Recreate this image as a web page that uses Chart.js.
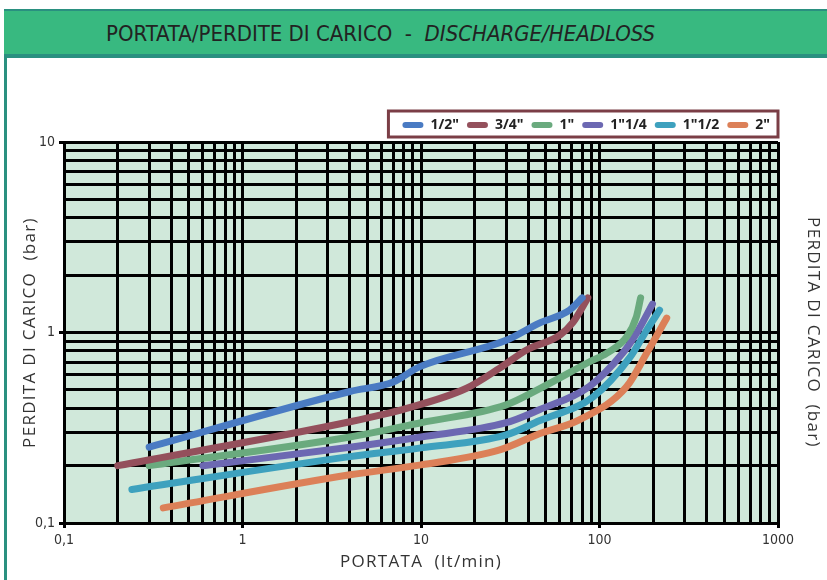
<!DOCTYPE html>
<html>
<head>
<meta charset="utf-8">
<script src="https://cdn.jsdelivr.net/npm/chart.js@4.4.1/dist/chart.umd.min.js"></script>
<style>
  html, body { margin: 0; padding: 0; background: #fff; }
  body { width: 827px; height: 580px; position: relative; overflow: hidden; }
  .header {
    position: absolute; left: 4px; top: 9px; width: 823px; height: 43px;
    background: #38b980; border-top: 2px solid #2a9080; border-bottom: 4px solid #2a9080;
    z-index: 2;
  }
  .header h1 {
    position: absolute; left: 102px; top: 10px; margin: 0;
    font-family: 'DejaVu Sans Condensed', 'Liberation Sans Narrow', sans-serif;
    font-weight: normal; font-size: 22px; color: #222; white-space: pre;
  }
  .header h1 i { font-style: italic; }
  .side { position: absolute; left: 4px; top: 56px; width: 3px; height: 524px; background: #2a9080; z-index: 2; }
  #wrap { position: absolute; left: 0; top: 0; width: 827px; height: 580px; }
</style>
</head>
<body>
<div class="header"><h1>PORTATA/PERDITE DI CARICO  -  <i>DISCHARGE/HEADLOSS</i></h1></div>
<div class="side"></div>
<div id="wrap"><canvas id="lossChart" width="827" height="580"></canvas></div>
<script>
// portata (lt/min) / perdita di carico (bar)
const sizes = ['1/2"', '3/4"', '1"', '1"1/4', '1"1/2', '2"'];
const colors = ['#4a7bc3', '#94505c', '#6aaa7e', '#6c68b2', '#3ea1be', '#dc8058'];

const flow12 = [0.3, 4, 7, 9.8, 30, 46, 68, 80];
const loss12 = [0.25, 0.49, 0.55, 0.66, 0.91, 1.12, 1.31, 1.52];
const flow34 = [0.2, 4, 8.3, 18, 27.6, 39, 60, 71, 86];
const loss34 = [0.2, 0.34, 0.40, 0.51, 0.65, 0.81, 0.97, 1.13, 1.52];
const flow1 = [0.3, 4, 10, 30, 46, 87.5, 110, 142, 161, 170];
const loss1 = [0.2, 0.283, 0.336, 0.417, 0.506, 0.70, 0.78, 0.95, 1.21, 1.52];
const flow114 = [0.6, 4, 10, 30, 46, 87.5, 135, 161, 198];
const loss114 = [0.2, 0.25, 0.283, 0.336, 0.393, 0.52, 0.78, 0.99, 1.41];
const flow112 = [0.24, 4, 10, 30, 46, 92, 148, 184, 217];
const loss112 = [0.15, 0.223, 0.248, 0.29, 0.344, 0.459, 0.74, 1.03, 1.31];
const flow2 = [0.36, 4, 10, 27.6, 46, 77, 142, 184, 238];
const loss2 = [0.12, 0.179, 0.202, 0.242, 0.294, 0.348, 0.52, 0.78, 1.19];

const xTicks = [0.1, 1, 10, 100, 1000];
const xTickLabels = ['0,1', '1', '10', '100', '1000'];
const yTicks = [0.1, 1, 10];
const yTickLabels = ['0,1', '1', '10'];

const flows = [flow12, flow34, flow1, flow114, flow112, flow2];
const losses = [loss12, loss34, loss1, loss114, loss112, loss2];

// every 1..9 step of each decade gets a grid line
function decadeSteps(majors) {
  const out = [];
  majors.forEach((p, i) => {
    if (i === majors.length - 1) { out.push(p); return; }
    for (let m = 1; m < 10; m++) out.push(Number((p * m).toPrecision(6)));
  });
  return out;
}

const thin = "'Liberation Sans Narrow', 'DejaVu Sans Condensed', sans-serif";

const plotBg = {
  id: 'plotBg',
  beforeDraw(chart) {
    const {ctx, chartArea: a} = chart;
    ctx.save();
    ctx.fillStyle = '#d0e8da';
    ctx.fillRect(a.left, a.top, a.width, a.height);
    ctx.restore();
  }
};

// wider letter spacing on the axis titles only
const spacedTitles = {
  id: 'spacedTitles',
  afterLayout(chart) {
    Object.values(chart.scales).forEach(s => {
      if (s._spaced) return;
      const orig = s.drawTitle;
      s.drawTitle = function () {
        const c = this.ctx;
        c.save();
        c.letterSpacing = '1.3px';
        orig.apply(this, arguments);
        c.restore();
      };
      s._spaced = true;
    });
  }
};

const legendFrame = {
  id: 'legendFrame',
  afterDraw(chart) {
    const lg = chart.legend, hb = lg.legendHitBoxes;
    if (!hb || !hb.length) return;
    const ctx = chart.ctx;
    const x1 = hb[0].left - 14, x2 = chart.chartArea.right;
    const y1 = lg.top + 1, y2 = chart.chartArea.top - 5;
    ctx.save();
    ctx.strokeStyle = '#7b3e46';
    ctx.lineWidth = 3;
    ctx.strokeRect(x1, y1, x2 - x1, y2 - y1);
    ctx.restore();
  }
};

const datasets = sizes.map((name, i) => ({
  label: name,
  data: flows[i].map((x, j) => ({x: x, y: losses[i][j]})),
  borderColor: colors[i],
  backgroundColor: colors[i],
  borderWidth: 7,
  borderCapStyle: 'round',
  borderJoinStyle: 'round',
  pointRadius: 0,
  cubicInterpolationMode: 'monotone',
  fill: false
}));

new Chart(document.getElementById('lossChart'), {
  type: 'line',
  data: { datasets: datasets },
  options: {
    responsive: false,
    animation: false,
    devicePixelRatio: 1,
    layout: { padding: { left: 8, top: 110, right: 0, bottom: 0 } },
    plugins: {
      tooltip: { enabled: false },
      legend: {
        position: 'top',
        align: 'end',
        fullSize: false,
        labels: {
          boxWidth: 21,
          boxHeight: 6,
          padding: 8,
          useBorderRadius: true,
          borderRadius: 3,
          color: '#222',
          font: { family: "'Noto Sans', sans-serif", size: 14, weight: 'bold' },
          generateLabels: chart =>
            Chart.defaults.plugins.legend.labels.generateLabels(chart).map(l => ({...l, lineWidth: 0}))
        }
      }
    },
    scales: {
      x: {
        type: 'logarithmic',
        min: 0.1, max: 1000,
        afterBuildTicks: s => { s.ticks = decadeSteps(xTicks).map(v => ({value: v})); },
        afterFit: s => { s.height = 57; },
        grid: {
          color: '#000', lineWidth: 3, tickLength: 5,
          tickColor: c => xTicks.includes(c.tick.value) ? '#000' : 'rgba(0,0,0,0)'
        },
        border: { color: '#000', width: 3 },
        ticks: {
          autoSkip: false, maxRotation: 0, padding: 4, color: '#333',
          font: { family: thin, size: 14 },
          callback: v => { const k = xTicks.indexOf(v); return k < 0 ? '' : xTickLabels[k]; }
        },
        title: {
          display: true, text: 'PORTATA  (lt/min)', color: '#333',
          font: { family: "'Open Sans', sans-serif", size: 17 },
          padding: { top: 0, bottom: 8 }
        }
      },
      y: {
        type: 'logarithmic',
        position: 'left',
        min: 0.1, max: 10,
        afterBuildTicks: s => { s.ticks = decadeSteps(yTicks).map(v => ({value: v})); },
        afterFit: s => { s.width = 56; },
        grid: {
          color: '#000', lineWidth: 3, tickLength: 5,
          tickColor: c => yTicks.includes(c.tick.value) ? '#000' : 'rgba(0,0,0,0)'
        },
        border: { color: '#000', width: 3 },
        ticks: {
          autoSkip: false, padding: 4, color: '#333',
          font: { family: thin, size: 14 },
          callback: v => { const k = yTicks.indexOf(v); return k < 0 ? '' : yTickLabels[k]; }
        },
        title: {
          display: true, text: 'PERDITA DI CARICO  (bar)', color: '#333',
          font: { family: "'Open Sans', sans-serif", size: 17 },
          padding: { top: 12, bottom: 0 }
        }
      },
      y2: {
        type: 'linear',
        position: 'right',
        display: true,
        afterFit: s => { s.width = 49; },
        grid: { display: false, drawTicks: false },
        border: { display: false },
        ticks: { display: false },
        title: {
          display: true, text: 'PERDITA DI CARICO  (bar)', color: '#333',
          font: { family: "'Open Sans', sans-serif", size: 17 },
          padding: { top: 4, bottom: 0 }
        }
      }
    }
  },
  plugins: [plotBg, spacedTitles, legendFrame]
});
</script>
</body>
</html>
